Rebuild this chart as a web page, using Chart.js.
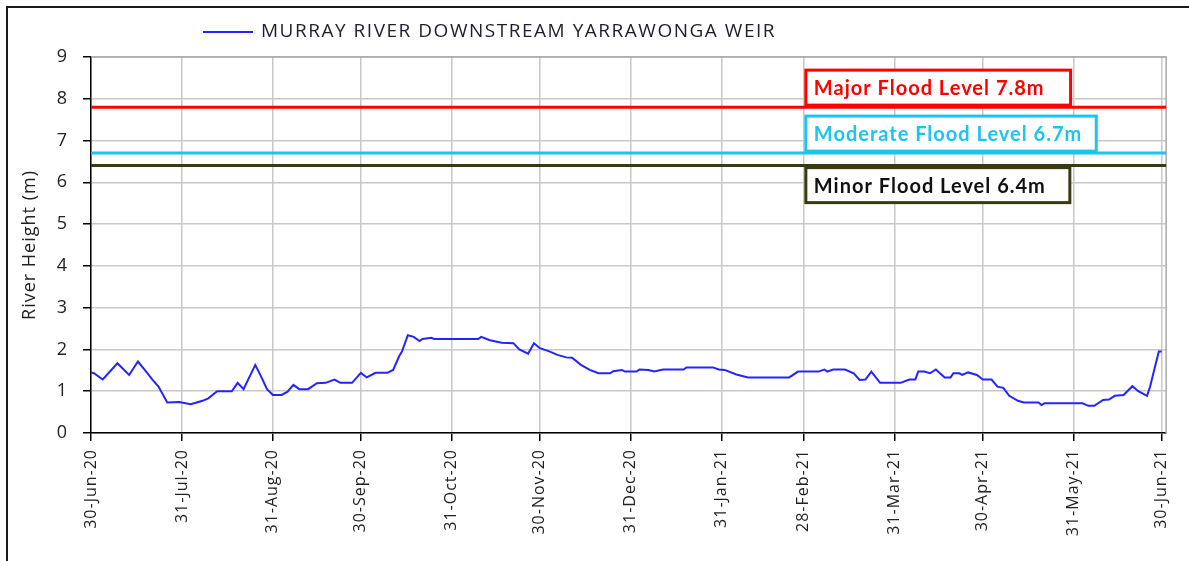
<!DOCTYPE html>
<html>
<head>
<meta charset="utf-8">
<script src="https://cdn.jsdelivr.net/npm/chart.js@4/dist/chart.umd.min.js"></script>
<style>
  html, body { margin: 0; padding: 0; background: #fff; overflow: hidden; }
  #wrap { position: absolute; left: 0; top: 0; width: 1189px; height: 561px; }
  #frame { position: absolute; left: 6px; top: 6px; width: 1200px; height: 600px; border: 2px solid #1a1a1a; box-sizing: border-box; pointer-events: none; }
</style>
</head>
<body>
<div id="wrap">
  <canvas id="riverChart" width="1189" height="561"></canvas>
  <div id="frame"></div>
</div>
<script>
// days since 30-Jun-20 and river height (m)
const days = [0, 1, 4, 9, 13, 16, 19, 21, 23, 26, 30, 34, 36, 38, 40, 43, 48, 50, 52, 56,
  58, 60, 62, 65, 67, 69, 71, 74, 77, 80, 83, 85, 89, 92, 94, 97, 101, 103, 105, 106,
  108, 110, 112, 113, 116, 117, 132, 133, 136, 140, 144, 146, 149, 151, 153, 156, 159, 162, 164, 167,
  170, 173, 177, 178, 181, 182, 186, 187, 190, 192, 195, 202, 203, 212, 214, 216, 220, 224, 238, 241,
  248, 250, 251, 253, 257, 260, 262, 264, 266, 269, 276, 279, 281, 282, 284, 286, 288, 291, 293, 294,
  296, 297, 299, 302, 304, 307, 309, 311, 313, 316, 318, 323, 324, 325, 338, 340, 342, 345, 347, 349,
  352, 355, 357, 360, 361, 363, 364, 365];
const heights = [1.45, 1.43, 1.28, 1.67, 1.39, 1.71, 1.45, 1.27, 1.11, 0.73, 0.74, 0.69, 0.73, 0.77, 0.83, 1.0, 1.0, 1.2, 1.05, 1.63,
  1.35, 1.05, 0.91, 0.91, 0.99, 1.15, 1.05, 1.05, 1.19, 1.2, 1.28, 1.2, 1.2, 1.44, 1.33, 1.44, 1.44, 1.51, 1.83, 1.95,
  2.34, 2.3, 2.2, 2.25, 2.28, 2.25, 2.25, 2.3, 2.22, 2.16, 2.15, 2.0, 1.9, 2.15, 2.03, 1.96, 1.87, 1.81, 1.8, 1.63,
  1.51, 1.43, 1.43, 1.48, 1.51, 1.47, 1.47, 1.52, 1.51, 1.47, 1.52, 1.52, 1.57, 1.57, 1.52, 1.51, 1.40, 1.33, 1.33, 1.47,
  1.47, 1.52, 1.47, 1.52, 1.52, 1.43, 1.27, 1.28, 1.47, 1.2, 1.2, 1.28, 1.28, 1.47, 1.47, 1.43, 1.52, 1.33, 1.33, 1.43,
  1.43, 1.39, 1.45, 1.39, 1.28, 1.28, 1.11, 1.08, 0.89, 0.77, 0.73, 0.73, 0.67, 0.71, 0.71, 0.65, 0.65, 0.79, 0.80, 0.89,
  0.91, 1.12, 1.0, 0.89, 1.1, 1.67, 1.95, 1.95];

const tickDays = [0, 31, 62, 92, 123, 153, 184, 215, 243, 274, 304, 335, 365];
const tickLabels = ['30-Jun-20', '31-Jul-20', '31-Aug-20', '30-Sep-20', '31-Oct-20', '30-Nov-20',
  '31-Dec-20', '31-Jan-21', '28-Feb-21', '31-Mar-21', '30-Apr-21', '31-May-21', '30-Jun-21'];

const floodLevels = [7.8, 6.7, 6.4];
const floodNames = ['Major Flood Level 7.8m', 'Moderate Flood Level 6.7m', 'Minor Flood Level 6.4m'];
const floodLabelDay = 243;

const seriesName = 'MURRAY RIVER DOWNSTREAM YARRAWONGA WEIR';

// styles for the flood lines and their label boxes
const floodStyles = [
  { color: '#ff0000', text: '#ff0000', side: 'above', extra: 26 },
  { color: '#1cc4f0', text: '#1cc4f0', side: 'above', extra: 14 },
  { color: '#3a3a12', text: '#111111', side: 'below', extra: 24 }
];

const floodDatasets = floodLevels.map((lvl, i) => ({
  label: floodNames[i],
  data: [{ x: 0, y: lvl }, { x: 366.5, y: lvl }],
  borderColor: floodStyles[i].color,
  borderWidth: 3,
  pointRadius: 0,
  fill: false
}));

// a little extra tracking to mimic the wide Excel text
const spacing = {
  id: 'spacing',
  beforeUpdate(chart) { chart.ctx.letterSpacing = '1px'; },
  beforeDraw(chart) { chart.ctx.letterSpacing = '1px'; }
};

const floodBoxes = {
  id: 'floodBoxes',
  afterDatasetsDraw(chart) {
    const { ctx, scales: { x, y } } = chart;
    ctx.save();
    ctx.font = 'bold 20px Lato';
    ctx.letterSpacing = '1px';
    ctx.textBaseline = 'middle';
    floodLevels.forEach((lvl, i) => {
      const st = floodStyles[i];
      const left = x.getPixelForValue(floodLabelDay) + 2;
      const ly = y.getPixelForValue(lvl);
      const h = 35;
      const top = st.side === 'above' ? ly - 2 - h : ly + 2;
      const w = ctx.measureText(floodNames[i]).width + 8 + st.extra;
      ctx.fillStyle = '#fff';
      ctx.fillRect(left, top, w, h);
      ctx.strokeStyle = st.color;
      ctx.lineWidth = 3;
      ctx.strokeRect(left, top, w, h);
      ctx.fillStyle = st.text;
      ctx.textAlign = 'left';
      ctx.fillText(floodNames[i], left + 8, top + h / 2 + 1);
    });
    ctx.restore();
  }
};

const frameAndLegend = {
  id: 'frameAndLegend',
  beforeDatasetsDraw(chart) {
    const { ctx, chartArea: a } = chart;
    ctx.save();
    ctx.strokeStyle = '#a8a8a8';
    ctx.lineWidth = 1.5;
    ctx.beginPath();
    ctx.moveTo(a.left, a.top);
    ctx.lineTo(a.right, a.top);
    ctx.lineTo(a.right, a.bottom);
    ctx.stroke();
    ctx.restore();
  },
  afterDraw(chart) {
    const { ctx } = chart;
    const ds = chart.data.datasets[0];
    ctx.save();
    ctx.strokeStyle = ds.borderColor;
    ctx.lineWidth = 2;
    ctx.beginPath();
    ctx.moveTo(203, 32);
    ctx.lineTo(253, 32);
    ctx.stroke();
    ctx.fillStyle = '#1e1e2e';
    ctx.font = '19px "Open Sans"';
    ctx.letterSpacing = '0px';
    const natural = ctx.measureText(ds.label).width;
    const extra = (515 - natural) / ds.label.length;
    ctx.letterSpacing = extra.toFixed(2) + 'px';
    ctx.textBaseline = 'middle';
    ctx.fillText(ds.label, 261, 32);
    ctx.restore();
  }
};

const ctx = document.getElementById('riverChart');
new Chart(ctx, {
  type: 'line',
  data: {
    datasets: [
      {
        label: seriesName,
        data: days.map((d, i) => ({ x: d, y: heights[i] })),
        borderColor: '#2424ff',
        borderWidth: 2,
        pointRadius: 0,
        tension: 0,
        fill: false
      },
      ...floodDatasets
    ]
  },
  options: {
    responsive: false,
    animation: false,
    layout: {
      padding: { left: 0, top: 57, right: 17, bottom: 0 }
    },
    plugins: {
      legend: { display: false },
      tooltip: { enabled: false }
    },
    scales: {
      x: {
        type: 'linear',
        min: 0,
        max: 366.5,
        afterBuildTicks: axis => {
          axis.ticks = tickDays.map(v => ({ value: v }));
        },
        afterFit: scale => { scale.height = 128; },
        grid: {
          color: '#c8c8c8',
          lineWidth: 1.5,
          tickLength: 8,
          tickColor: '#000'
        },
        border: { color: '#000', width: 1.5 },
        ticks: {
          autoSkip: false,
          minRotation: 90,
          maxRotation: 90,
          padding: 8,
          color: '#222',
          font: { family: 'Open Sans', size: 16 },
          callback: function(value, index) {
            return tickLabels[index];
          }
        }
      },
      y: {
        min: 0,
        max: 9,
        afterFit: scale => { scale.width = 91; },
        grid: {
          color: '#c8c8c8',
          lineWidth: 1.5,
          tickLength: 8,
          tickColor: '#000'
        },
        border: { color: '#000', width: 1.5 },
        ticks: {
          stepSize: 1,
          padding: 15,
          color: '#222',
          font: { family: 'Open Sans', size: 18 }
        },
        title: {
          display: true,
          text: 'River Height (m)',
          color: '#222',
          padding: { top: 19, bottom: 0 },
          font: { family: 'Open Sans', size: 18 }
        }
      }
    }
  },
  plugins: [spacing, floodBoxes, frameAndLegend]
});
</script>
</body>
</html>
